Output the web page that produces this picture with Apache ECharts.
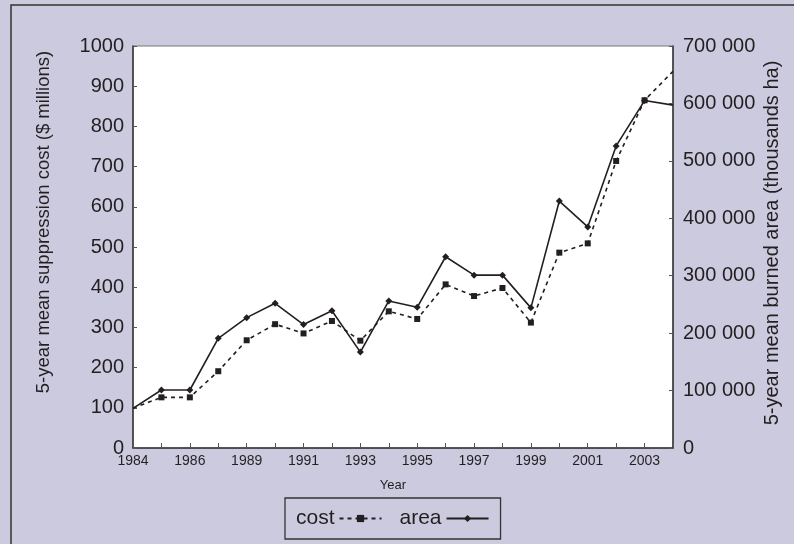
<!DOCTYPE html>
<html lang="en">
<head>
	<meta charset="UTF-8">
	<title>Suppression cost and burned area</title>
	<script type="text/javascript" src="https://cdn.jsdelivr.net/npm/echarts@6/dist/echarts.min.js"></script>
	<style type="text/css">
		html, body {
			margin: 0;
			padding: 0;
			background: #cccadf;
		}
		#main {
			width: 794px;
			height: 544px;
		}
	</style>
</head>
<body>
	<div id="main"></div>
	<script type="text/javascript">
		// x categories (1988 is missing in the source chart)
		var years = ['1984', '1985', '1986', '1987', '1989', '1990', '1991', '1992', '1993', '1994',
			'1995', '1996', '1997', '1998', '1999', '2000', '2001', '2002', '2003', '2004'];

		// 5-year mean suppression cost, $ millions (left axis)
		var cost = [99, 126, 126, 191, 268, 308, 285, 316, 267, 340,
			321, 407, 378, 398, 312, 486, 509, 714, 865, 937];

		// 5-year mean burned area, thousands ha (right axis)
		var area = [69000, 101000, 101000, 191000, 227000, 252000, 215000, 239000, 167000, 256000,
			245000, 333000, 301000, 301000, 244000, 430000, 385000, 526000, 605000, 597000];

		var costTicks = [0, 1000, 100];
		var areaTicks = [0, 700000, 100000];

		var FONT = "'Liberation Sans', Arial, Helvetica, sans-serif";
		var INK = '#231f20';

		function withEnds(arr) {
			// no marker on the first and last point
			return arr.map(function (v, i) {
				if (i === 0 || i === arr.length - 1) {
					return { value: v, symbol: 'none' };
				}
				return v;
			});
		}

		function spaced(v) {
			return String(v).replace(/\B(?=(\d{3})+(?!\d))/g, ' ');
		}

		var chart = echarts.init(document.getElementById('main'));

		var option = {
			backgroundColor: '#cccadf',
			textStyle: { fontFamily: FONT, color: INK },
			animation: false,
			grid: {
				left: 133,
				right: 121,
				top: 46,
				bottom: 96,
				show: true,
				backgroundColor: '#ffffff',
				borderColor: '#777',
				borderWidth: 1
			},
			legend: {
				data: ['cost', 'area'],
				left: 285,
				top: 498,
				align: 'right',
				itemGap: 17,
				itemWidth: 42,
				itemHeight: 9,
				padding: [10, 11, 10, 11],
				borderColor: '#333',
				borderWidth: 1.3,
				textStyle: { fontSize: 21, fontFamily: FONT, color: INK }
			},
			xAxis: {
				type: 'category',
				boundaryGap: false,
				data: years,
				axisLine: { lineStyle: { color: '#333', width: 1.5 } },
				axisTick: { inside: true, length: 5, interval: 0, lineStyle: { color: '#555' } },
				axisLabel: { interval: 1, fontSize: 14, color: INK, margin: 6, fontFamily: FONT }
			},
			yAxis: [
				{
					type: 'value',
					min: costTicks[0],
					max: costTicks[1],
					interval: costTicks[2],
					splitLine: { show: false },
					axisLine: { show: true, lineStyle: { color: '#333', width: 1.5 } },
					axisTick: { show: true, inside: true, length: 4, lineStyle: { color: '#555' } },
					axisLabel: {
						fontSize: 20, color: INK, margin: 9, fontFamily: FONT,
						formatter: function (v) { return String(v); }
					}
				},
				{
					type: 'value',
					position: 'right',
					min: areaTicks[0],
					max: areaTicks[1],
					interval: areaTicks[2],
					splitLine: { show: false },
					axisLine: { show: true, lineStyle: { color: '#333', width: 1.5 } },
					axisTick: { show: true, inside: true, length: 4, lineStyle: { color: '#555' } },
					axisLabel: {
						fontSize: 20, color: INK, margin: 10, fontFamily: FONT,
						formatter: spaced
					}
				}
			],
			series: [
				{
					name: 'cost',
					type: 'line',
					yAxisIndex: 0,
					data: withEnds(cost),
					symbol: 'rect',
					symbolSize: 6,
					showAllSymbol: true,
					itemStyle: { color: INK },
					lineStyle: { color: INK, width: 1.6, type: [4, 4] }
				},
				{
					name: 'area',
					type: 'line',
					yAxisIndex: 1,
					data: withEnds(area),
					symbol: 'diamond',
					symbolSize: 7,
					showAllSymbol: true,
					itemStyle: { color: INK },
					lineStyle: { color: INK, width: 1.6 }
				}
			],
			graphic: [
				{
					type: 'rect',
					shape: { x: 11, y: 5, width: 900, height: 700 },
					style: { fill: 'none', stroke: '#333', lineWidth: 1.5 },
					silent: true
				},
				{
					type: 'text',
					x: 44,
					y: 222,
					rotation: Math.PI / 2,
					style: {
						text: '5-year mean suppression cost ($ millions)',
						font: '18.5px ' + FONT,
						fill: INK,
						textAlign: 'center',
						textVerticalAlign: 'middle'
					}
				},
				{
					type: 'text',
					x: 772,
					y: 243,
					rotation: Math.PI / 2,
					style: {
						text: '5-year mean burned area (thousands ha)',
						font: '20px ' + FONT,
						fill: INK,
						textAlign: 'center',
						textVerticalAlign: 'middle'
					}
				},
				{
					type: 'text',
					x: 393,
					y: 485,
					style: {
						text: 'Year',
						font: '13px ' + FONT,
						fill: INK,
						textAlign: 'center',
						textVerticalAlign: 'middle'
					}
				}
			]
		};

		chart.setOption(option);
	</script>
</body>
</html>
